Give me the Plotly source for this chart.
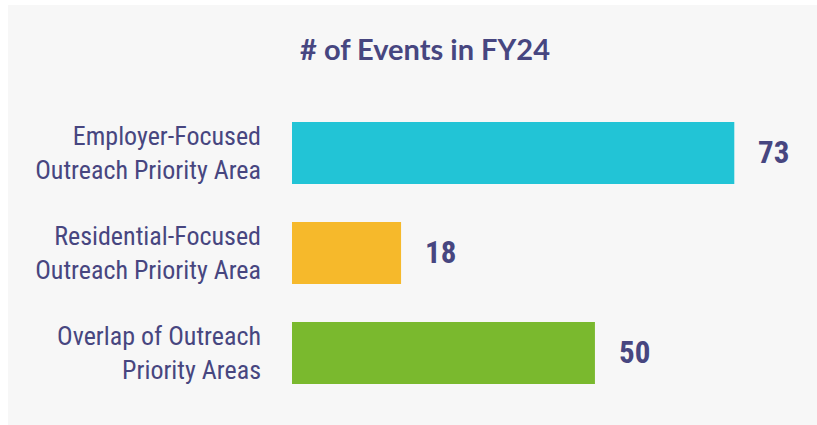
import plotly.graph_objects as go

categories = ["Employer-Focused<br>Outreach Priority Area",
              "Residential-Focused<br>Outreach Priority Area",
              "Overlap of Outreach<br>Priority Areas"]
values = [73, 18, 50]
colors = ["#22C4D6", "#F6B92B", "#7AB92E"]
title = "# of Events in FY24"

TXT = "#474680"

fig = go.Figure()
fig.add_trace(go.Bar(
    x=values, y=categories, orientation="h",
    marker=dict(color=colors, line=dict(width=0)),
    width=0.62, hoverinfo="skip",
))

for c, v in zip(categories, values):
    fig.add_annotation(x=v, y=c, text=f"<b>{v}</b>", showarrow=False,
                       xanchor="left", xshift=22, yshift=1,
                       font=dict(family="Roboto Condensed, Liberation Sans Narrow, Roboto", size=31, color=TXT))

# gray panel
fig.add_shape(type="rect", xref="paper", yref="paper",
              x0=(8 - 292) / 515, x1=(817 - 292) / 515,
              y0=(403 - 425) / 300, y1=(403 - 5) / 300,
              fillcolor="#F7F7F7", line=dict(width=0), layer="below")

fig.update_layout(
    width=817, height=425,
    margin=dict(l=292, r=10, t=103, b=22),
    paper_bgcolor="white", plot_bgcolor="rgba(0,0,0,0)",
    showlegend=False,
    title=dict(text=f"<b>{title}</b>", x=(425) / 817, xanchor="center", xref="container",
               y=1 - 50 / 425, yanchor="middle",
               font=dict(family="Lato, Open Sans", size=29, color=TXT)),
    xaxis=dict(range=[0, 85], visible=False, fixedrange=True),
    yaxis=dict(autorange="reversed", showgrid=False, zeroline=False, showline=False,
               ticks="", ticklabelstandoff=30,
               tickfont=dict(family="Roboto Condensed, Liberation Sans Narrow, Roboto", size=26, color=TXT)),
)

fig.write_html("out.html")
